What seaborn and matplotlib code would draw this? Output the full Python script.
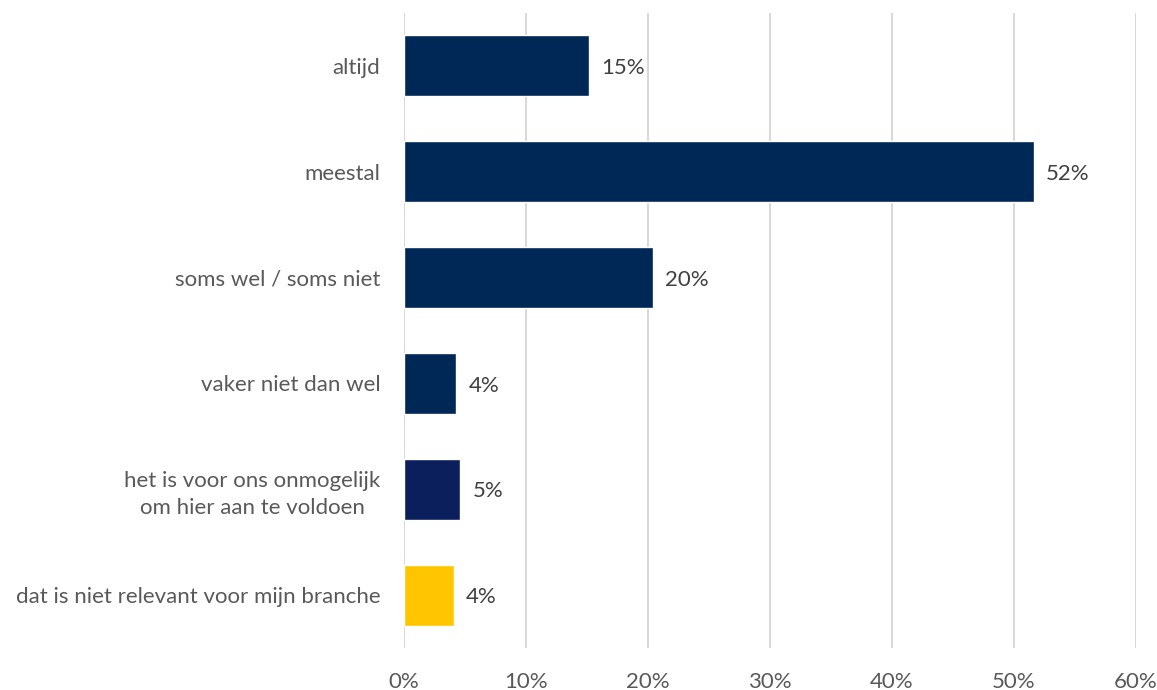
import matplotlib
matplotlib.use("Agg")
import matplotlib.pyplot as plt
import seaborn as sns
import pandas as pd
from matplotlib.ticker import PercentFormatter

# data
categories = [
    "altijd",
    "meestal",
    "soms wel / soms niet",
    "vaker niet dan wel",
    "het is voor ons onmogelijk\nom hier aan te voldoen",
    "dat is niet relevant voor mijn branche",
]
values = [15.2, 51.6, 20.4, 4.3, 4.6, 4.1]
labels = ["15%", "52%", "20%", "4%", "5%", "4%"]
colors = ["#002856", "#002856", "#002856", "#002856", "#0A1F5C", "#FFC600"]

df = pd.DataFrame({"cat": categories, "val": values})

sns.set_style("white")
plt.rcParams["font.family"] = ["Lato", "DejaVu Sans"]

fig = plt.figure(figsize=(11.57, 6.9), dpi=100)
ax = fig.add_axes([404 / 1157, 1 - 648 / 690, (1136 - 404) / 1157, (648 - 13) / 690])

sns.barplot(data=df, x="val", y="cat", hue="cat", palette=colors, legend=False,
            width=0.575, saturation=1, ax=ax)

ax.set_xlim(0, 60)
ax.set_xticks(range(0, 61, 10))
ax.xaxis.set_major_formatter(PercentFormatter(decimals=0))
ax.grid(axis="x", color="#D9D9D9", linewidth=1.5)
ax.set_axisbelow(True)
for s in ax.spines.values():
    s.set_visible(False)
ax.set_xlabel("")
ax.set_ylabel("")
ax.tick_params(axis="both", length=0, labelsize=16, colors="#595959")
ax.tick_params(axis="x", pad=17)
ax.tick_params(axis="y", pad=17)
for t in ax.get_yticklabels():
    t.set_horizontalalignment("right")
    t.set_multialignment("center")
    t.set_linespacing(1.45)

for i, (v, lab) in enumerate(zip(values, labels)):
    ax.text(v + 1.0, i + 0.02, lab, va="center", ha="left", fontsize=16, color="#404040")

fig.savefig("out.png", dpi=100)
